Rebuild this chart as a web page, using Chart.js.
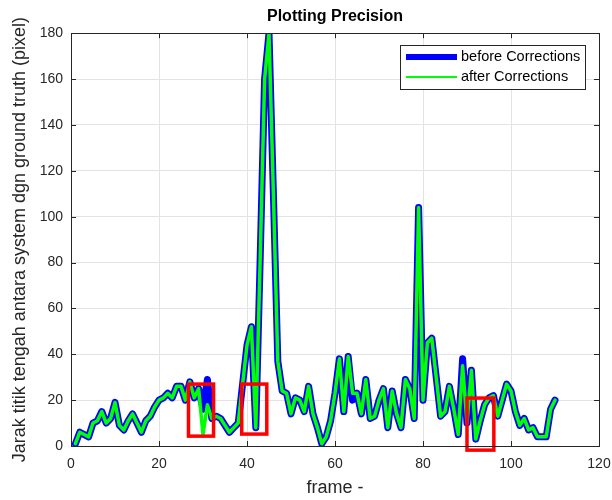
<!DOCTYPE html>
<html>
<head>
<meta charset="utf-8">
<script src="https://cdn.jsdelivr.net/npm/chart.js@4.4.0/dist/chart.umd.min.js"></script>
<style>
html, body { margin: 0; padding: 0; background: #fff; }
#wrap { width: 612px; height: 500px; }
</style>
</head>
<body>
<div id="wrap"><canvas id="myChart" width="612" height="500"></canvas></div>
<script>
// Values, frame 1..110
const beforeCorr = [
    1, 6, 5, 4, 10, 11, 15, 10, 12, 19,
    9, 7, 11, 14, 10, 6, 11, 13, 17, 20,
    21, 23, 21, 26, 26, 20, 28, 21, 25, 16,
    29, 12, 13, 12, 9, 6, 8, 10, 27, 44,
    52, 8, 82, 160, 180, 110, 37, 24, 23, 14,
    21, 20, 15, 26, 14, 8, 1, 4, 11, 23,
    38, 15, 39, 20, 23, 14, 29, 12, 13, 20,
    25, 8, 24, 14, 8, 29, 25, 12, 104, 20,
    45, 47, 30, 13, 15, 26, 16, 5, 38, 10,
    33, 3, 11, 18, 21, 22, 13, 20, 27, 24,
    15, 9, 12, 7, 8, 4, 4, 4, 16, 20
];
const afterCorr = [
    1, 6, 5, 4, 10, 11, 15, 10, 12, 19,
    9, 7, 11, 14, 10, 6, 11, 13, 17, 20,
    21, 23, 21, 26, 26, 20, 28, 21, 25, 5,
    18, 12, 13, 12, 9, 6, 8, 10, 27, 44,
    52, 8, 82, 160, 180, 110, 37, 24, 23, 14,
    21, 20, 15, 26, 14, 8, 1, 4, 11, 23,
    38, 15, 39, 23, 23, 14, 29, 12, 13, 20,
    25, 8, 24, 14, 8, 29, 25, 12, 104, 20,
    45, 47, 30, 13, 15, 26, 16, 5, 35, 10,
    33, 3, 11, 18, 21, 22, 13, 20, 27, 24,
    15, 9, 12, 7, 8, 4, 4, 4, 16, 20
];
const xTicks = [0, 20, 40, 60, 80, 100, 120];
const yTicks = [0, 20, 40, 60, 80, 100, 120, 140, 160, 180];
const seriesNames = ['before Corrections', 'after Corrections'];

// red highlight boxes (data units): [x0, x1, y0, y1]
const boxX0 = [26.7, 38.8, 90.0];
const boxX1 = [32.4, 44.5, 96.1];
const boxY0 = [4.3, 5.2, -1.8];
const boxY1 = [27, 27, 20.9];

const toPoints = arr => arr.map((v, i) => ({ x: i + 1, y: v }));
const axisColor = '#262626';
const fontFam = '"Liberation Sans", Arial, sans-serif';

const matlabAxes = {
    id: 'matlabAxes',
    afterDatasetsDraw(chart) {
        const { ctx, scales: { x, y } } = chart;
        ctx.save();
        ctx.strokeStyle = '#ff0000';
        ctx.lineWidth = 3.5;
        boxX0.forEach((b, i) => {
            const l = x.getPixelForValue(b), r = x.getPixelForValue(boxX1[i]);
            const t = y.getPixelForValue(boxY1[i]), btm = y.getPixelForValue(boxY0[i]);
            ctx.strokeRect(l, t, r - l, btm - t);
        });
        ctx.restore();
    },
    afterDraw(chart) {
        const { ctx, chartArea: a, scales: { x, y } } = chart;
        ctx.save();
        ctx.strokeStyle = axisColor;
        ctx.lineWidth = 1;
        ctx.strokeRect(Math.round(a.left) + 0.5, Math.round(a.top) + 0.5,
            Math.round(a.right - a.left), Math.round(a.bottom - a.top));
        ctx.beginPath();
        xTicks.forEach(t => {
            const px = Math.round(x.getPixelForValue(t)) + 0.5;
            ctx.moveTo(px, a.bottom); ctx.lineTo(px, a.bottom - 5);
            ctx.moveTo(px, a.top); ctx.lineTo(px, a.top + 5);
        });
        yTicks.forEach(t => {
            const py = Math.round(y.getPixelForValue(t)) + 0.5;
            ctx.moveTo(a.left, py); ctx.lineTo(a.left + 5, py);
            ctx.moveTo(a.right, py); ctx.lineTo(a.right - 5, py);
        });
        ctx.stroke();

        // legend box
        const lx = 400, ly = 45, lw = 185, lh = 44;
        ctx.fillStyle = '#ffffff';
        ctx.fillRect(lx, ly, lw, lh);
        ctx.strokeStyle = axisColor;
        ctx.strokeRect(lx + 0.5, ly + 0.5, lw, lh);
        ctx.lineCap = 'butt';
        ctx.strokeStyle = '#0000ff';
        ctx.lineWidth = 6;
        ctx.beginPath(); ctx.moveTo(406, 57); ctx.lineTo(457, 57); ctx.stroke();
        ctx.strokeStyle = '#00ff00';
        ctx.lineWidth = 2;
        ctx.beginPath(); ctx.moveTo(406, 77); ctx.lineTo(457, 77); ctx.stroke();
        ctx.fillStyle = '#000000';
        ctx.font = '14.5px ' + fontFam;
        ctx.textBaseline = 'middle';
        ctx.fillText(seriesNames[0], 461, 57);
        ctx.fillText(seriesNames[1], 461, 77);
        ctx.restore();
    }
};

const ctx = document.getElementById('myChart').getContext('2d');
new Chart(ctx, {
    type: 'line',
    data: {
        datasets: [{
            label: seriesNames[0],
            data: toPoints(beforeCorr),
            borderColor: '#0000ff',
            borderWidth: 7,
            borderJoinStyle: 'round',
            borderCapStyle: 'round',
            pointRadius: 0,
            tension: 0,
            order: 2
        }, {
            label: seriesNames[1],
            data: toPoints(afterCorr),
            borderColor: '#00ff00',
            borderWidth: 3.5,
            borderJoinStyle: 'round',
            borderCapStyle: 'round',
            pointRadius: 0,
            tension: 0,
            order: 1
        }]
    },
    options: {
        responsive: false,
        devicePixelRatio: 1,
        animation: false,
        layout: { padding: { left: 0, right: 0, top: 0, bottom: 0 } },
        plugins: {
            legend: { display: false },
            tooltip: { enabled: false },
            title: {
                display: true,
                fullSize: false,
                text: 'Plotting Precision',
                color: '#000000',
                font: { family: fontFam, size: 16, weight: 'bold' },
                padding: { top: 7, bottom: 7 }
            }
        },
        scales: {
            x: {
                type: 'linear',
                min: 0, max: 120,
                afterBuildTicks: s => { s.ticks = xTicks.map(v => ({ value: v })); },
                afterFit: s => { s.height = 54; s.paddingLeft = 0; s.paddingRight = 13; },
                grid: { color: '#e3e3e3', drawTicks: false },
                border: { display: false },
                ticks: { color: axisColor, padding: 10, font: { family: fontFam, size: 14 } },
                title: {
                    display: true, text: 'frame -', color: axisColor,
                    font: { family: fontFam, size: 18 },
                    padding: { top: 0, bottom: 1 }
                }
            },
            y: {
                min: 0, max: 180,
                afterBuildTicks: s => { s.ticks = yTicks.map(v => ({ value: v })); },
                afterFit: s => { s.width = 71; },
                grid: { color: '#e3e3e3', drawTicks: false },
                border: { display: false },
                ticks: { color: axisColor, padding: 8, font: { family: fontFam, size: 14 } },
                title: {
                    display: true, text: 'Jarak titik tengah antara system dgn ground truth (pixel)',
                    color: axisColor,
                    font: { family: fontFam, size: 18 },
                    padding: { top: 9, bottom: 0 }
                }
            }
        }
    },
    plugins: [matlabAxes]
});
</script>
</body>
</html>
